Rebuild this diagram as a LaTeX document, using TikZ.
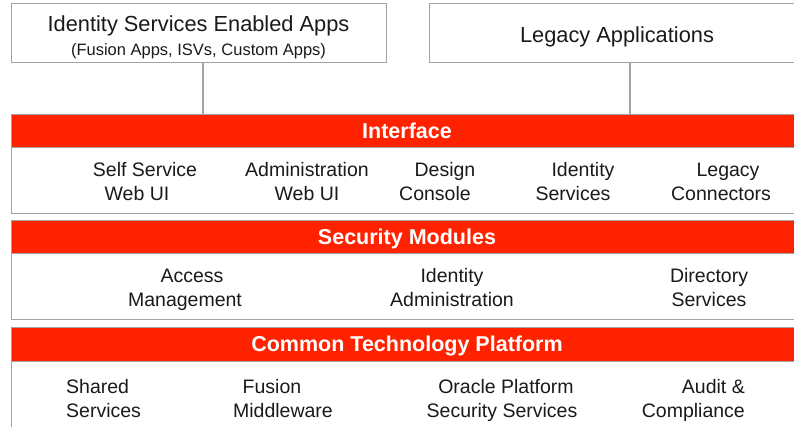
\documentclass[tikz,border=0pt]{standalone}
\usepackage{fontspec}
\setmainfont{Liberation Sans}
\definecolor{bandred}{HTML}{FF2200}
\definecolor{edgegray}{HTML}{A3A3A3}
\definecolor{inkgray}{HTML}{1A1A1A}
\begin{document}
\begin{tikzpicture}[x=1pt,y=-1pt,
  appbox/.style={draw=edgegray, line width=1.3pt, fill=white, inner sep=0pt, anchor=north west, minimum height=59pt},
  layerbox/.style={draw=edgegray, line width=1.3pt, fill=white, inner sep=0pt, anchor=north west, minimum width=800pt},
  band/.style={draw=edgegray, line width=1.3pt, fill=bandred, inner sep=0pt, anchor=north west, minimum width=800pt},
  bandlabel/.style={text=white, font=\fontsize{21.5}{24}\selectfont\bfseries, inner sep=0pt, anchor=base},
  titletext/.style={text=inkgray, font=\fontsize{21.8}{24}\selectfont, inner sep=0pt, anchor=base},
  subtext/.style={text=inkgray, font=\fontsize{16.5}{20}\selectfont, inner sep=0pt, anchor=base},
  item/.style={text=inkgray, font=\fontsize{19.5}{23.5}\selectfont, inner sep=0pt, align=center},
  conn/.style={draw=edgegray, line width=1.8pt}
]
\useasboundingbox (0,0) rectangle (794,426);
\clip (0,0) rectangle (794,426);

% top application boxes
\node[appbox, minimum width=375pt] (isea) at (11,3) {};
\node[appbox, minimum width=371pt] (legacy) at (429,3) {};
\node[titletext] (iseat) at (198.5,31) {Identity Services Enabled Apps};
\node[subtext] (iseas) at (198.5,55) {(Fusion Apps, ISVs, Custom Apps)};
\node[titletext] (legacyt) at (617,42.3) {Legacy Applications};

% layers
\node[layerbox, minimum height=99pt] (ilayer) at (11,114) {};
\node[band, minimum height=33pt] (iband) at (11,114) {};
\node[bandlabel] (ilabel) at (407,138) {Interface};

\node[layerbox, minimum height=99pt] (slayer) at (11,220) {};
\node[band, minimum height=33pt] (sband) at (11,220) {};
\node[bandlabel] (slabel) at (407,244.5) {Security Modules};

\node[layerbox, minimum height=120pt] (clayer) at (11,327) {};
\node[band, minimum height=34pt] (cband) at (11,327) {};
\node[bandlabel] (clabel) at (407,351.5) {Common Technology Platform};

% connectors
\draw[conn] ([xshift=3.5pt]isea.south) -- ([xshift=3.5pt]isea.south |- iband.north);
\draw[conn] ([xshift=14.5pt]legacy.south) -- ([xshift=14.5pt]legacy.south |- iband.north);

% interface items
\node[item] (selfsvc) at (145,184) {Self Service\strut\\Web UI\hspace*{16pt}\strut};
\node[item] (adminui) at (307,184) {Administration\strut\\Web UI\strut};
\node[item] (design) at (435,184) {\hspace*{20pt}Design\strut\\Console\strut};
\node[item] (idsvc) at (573,184) {\hspace*{20pt}Identity\strut\\Services\strut};
\node[item] (legconn) at (721,184) {\hspace*{14pt}Legacy\strut\\Connectors\strut};

% security items
\node[item] (access) at (185,290) {\hspace*{14pt}Access\strut\\Management\strut};
\node[item] (idadmin) at (452,290) {Identity\strut\\Administration\strut};
\node[item] (dirsvc) at (709,290) {Directory\strut\\Services\strut};

% common items
\node[item, align=left, anchor=west] (shared) at (66,401) {Shared\strut\\Services\strut};
\node[item] (fusion) at (283,401) {Fusion\hspace*{22pt}\strut\\Middleware\strut};
\node[item] (opss) at (502,401) {\hspace*{8pt}Oracle Platform\strut\\Security Services\strut};
\node[item, align=right, anchor=east] (audit) at (745,401) {Audit \&\strut\\Compliance\strut};
\end{tikzpicture}
\end{document}
